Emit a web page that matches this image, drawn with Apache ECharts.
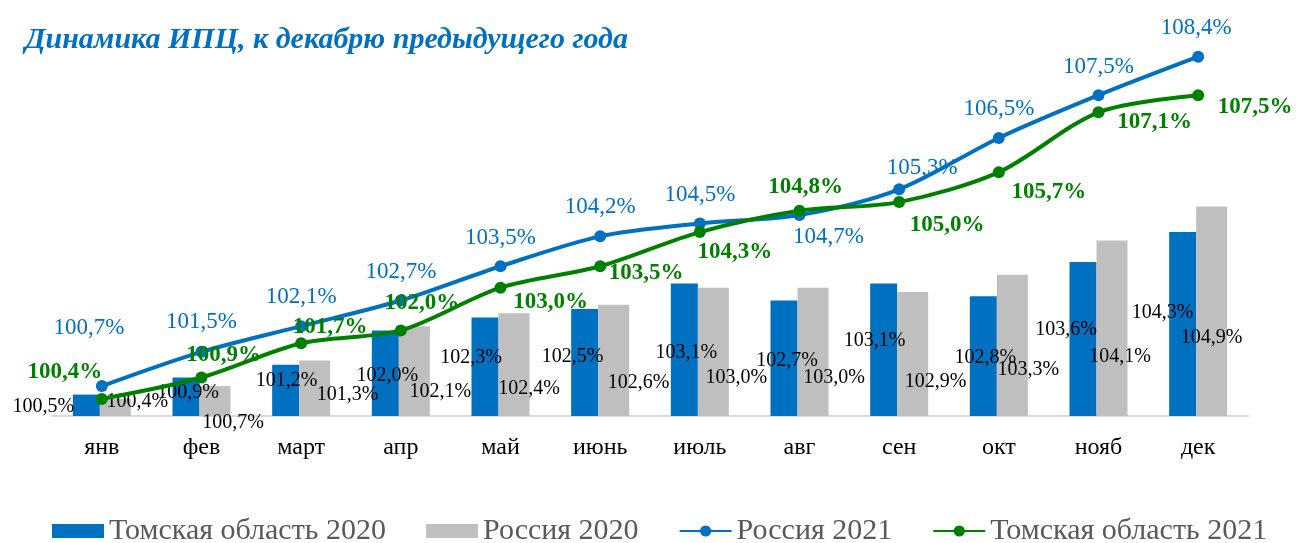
<!DOCTYPE html>
<html>
<head>
<meta charset="utf-8">
<script src="https://cdn.jsdelivr.net/npm/echarts@6/dist/echarts.min.js"></script>
<style>
  html, body { margin: 0; padding: 0; background: #ffffff; }
  #chart { width: 1298px; height: 543px; }
</style>
</head>
<body>
<div id="chart"></div>
<script>
// Months of the year
const months = ['янв', 'фев', 'март', 'апр', 'май', 'июнь', 'июль', 'авг', 'сен', 'окт', 'нояб', 'дек'];

// CPI, % of December of the previous year
const tomsk2020  = [100.5, 100.9, 101.2, 102.0, 102.3, 102.5, 103.1, 102.7, 103.1, 102.8, 103.6, 104.3];
const russia2020 = [100.4, 100.7, 101.3, 102.1, 102.4, 102.6, 103.0, 103.0, 102.9, 103.3, 104.1, 104.9];
const russia2021 = [100.7, 101.5, 102.1, 102.7, 103.5, 104.2, 104.5, 104.7, 105.3, 106.5, 107.5, 108.4];
const tomsk2021  = [100.4, 100.9, 101.7, 102.0, 103.0, 103.5, 104.3, 104.8, 105.0, 105.7, 107.1, 107.5];

// Hand-placed label shifts [dx, dy] (px) from each bar top / each line point
const tomsk2020Shift  = [[-43,12],[2,15],[1,16],[2,45],[-14,40],[-12,48],[2,69],[3,60],[-9,57],[2,62],[-17,68],[-20,81]];
const russia2020Shift = [[22,3],[18,37],[33,34],[26,66],[15,75],[25,78],[23,90],[21,90],[23,90],[16,95],[8,116],[0,131]];
const russia2021Shift = [[-13,-58],[0,-30],[0,-29],[0,-29],[0,-28],[0,-29],[0,-29],[29,22],[23,-21],[0,-29],[0,-28],[-2,-29]];
const tomsk2021Shift  = [[-37,-27],[22,-22],[29,-16],[21,-27],[50,14],[46,7],[35,20],[6,-24],[48,23],[50,20],[56,10],[57,12]];

const BLUE = '#0070C0';
const GREY = '#BFBFBF';
const GREEN = '#008000';
const SERIF = '"Liberation Serif", "DejaVu Serif", serif';

const pct = v => v.toFixed(1).replace('.', ',') + '%';

function withShifts(values, shifts) {
  return values.map((v, i) => ({ value: v, label: { offset: shifts[i] } }));
}

const barLabel = {
  show: true,
  position: 'top',
  distance: 0,
  align: 'center',
  verticalAlign: 'middle',
  color: '#000000',
  fontFamily: SERIF,
  fontSize: 20,
  formatter: p => pct(p.value)
};

const chart = echarts.init(document.getElementById('chart'), null, { renderer: 'canvas' });

chart.setOption({
  animation: false,
  backgroundColor: '#ffffff',
  title: {
    text: 'Динамика ИПЦ, к декабрю предыдущего года',
    left: 20,
    top: 20,
    textStyle: {
      color: BLUE,
      fontFamily: SERIF,
      fontStyle: 'italic',
      fontWeight: 'bold',
      fontSize: 30
    }
  },
  legend: {
    left: 47,
    top: 511,
    itemWidth: 52,
    itemHeight: 14,
    itemGap: 40,
    textStyle: { color: '#595959', fontFamily: SERIF, fontSize: 30 },
    data: [
      { name: 'Томская область 2020', icon: 'rect' },
      { name: 'Россия 2020', icon: 'rect' },
      'Россия 2021',
      'Томская область 2021'
    ]
  },
  grid: { left: 52, right: 50, top: 31, bottom: 127 },
  xAxis: {
    type: 'category',
    data: months,
    axisLine: { lineStyle: { color: '#D9D9D9', width: 2 } },
    axisTick: { show: false },
    axisLabel: { color: '#000000', fontFamily: SERIF, fontSize: 24, margin: 20 }
  },
  yAxis: {
    type: 'value',
    min: 100,
    max: 109,
    show: false,
    splitLine: { show: false }
  },
  series: [
    {
      name: 'Томская область 2020',
      type: 'bar',
      barWidth: 27,
      barGap: '0%',
      itemStyle: { color: BLUE },
      label: barLabel,
      data: withShifts(tomsk2020, tomsk2020Shift)
    },
    {
      name: 'Россия 2020',
      type: 'bar',
      barWidth: 31,
      barGap: '0%',
      itemStyle: { color: GREY },
      label: barLabel,
      data: withShifts(russia2020, russia2020Shift)
    },
    {
      name: 'Россия 2021',
      type: 'line',
      smooth: 0.3,
      symbol: 'circle',
      symbolSize: 12,
      lineStyle: { color: BLUE, width: 4 },
      itemStyle: { color: BLUE },
      label: {
        show: true,
        position: 'inside',
        align: 'center',
        verticalAlign: 'middle',
        color: BLUE,
        fontFamily: SERIF,
        fontSize: 23,
        formatter: p => pct(p.value)
      },
      data: withShifts(russia2021, russia2021Shift)
    },
    {
      name: 'Томская область 2021',
      type: 'line',
      smooth: 0.3,
      symbol: 'circle',
      symbolSize: 12,
      lineStyle: { color: GREEN, width: 4 },
      itemStyle: { color: GREEN },
      label: {
        show: true,
        position: 'inside',
        align: 'center',
        verticalAlign: 'middle',
        color: GREEN,
        fontFamily: SERIF,
        fontWeight: 'bold',
        fontSize: 23,
        formatter: p => pct(p.value)
      },
      data: withShifts(tomsk2021, tomsk2021Shift)
    }
  ]
});
</script>
</body>
</html>
